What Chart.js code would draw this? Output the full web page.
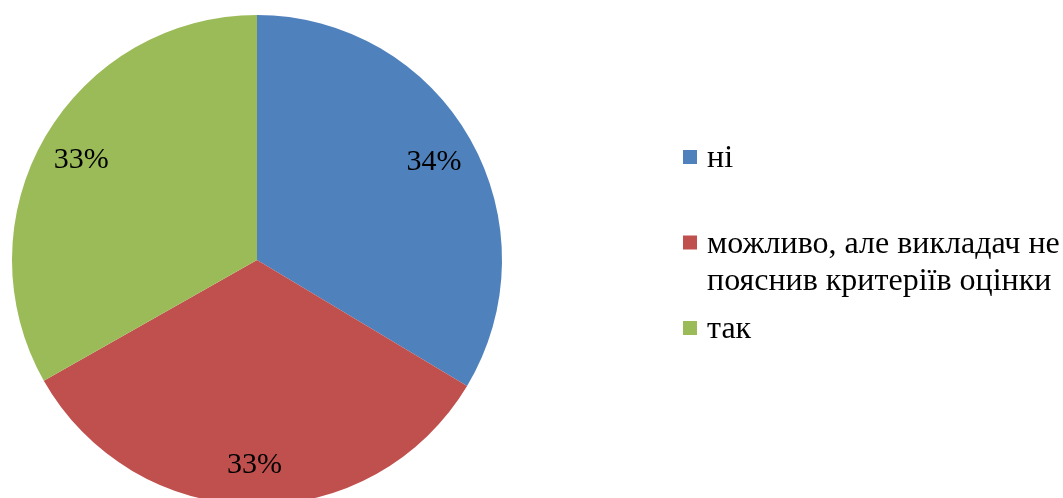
<!DOCTYPE html>
<html>
<head>
<meta charset="utf-8">
<script src="https://cdn.jsdelivr.net/npm/chart.js@4/dist/chart.umd.min.js"></script>
<style>
  html, body { margin: 0; padding: 0; background: #fff; overflow: hidden; }
  #wrap { position: absolute; left: 0; top: 0; width: 1063px; height: 520px; }
</style>
</head>
<body>
<div id="wrap"><canvas id="pieChart"></canvas></div>
<script>
const categories = ['ні', ['можливо, але викладач не', 'пояснив критеріїв оцінки'], 'так'];
const shares = [33.6, 33.2, 33.2];
const colors = ['#4F81BD', '#C0504D', '#9BBB59'];

const LABEL_FONT = '30px "Liberation Serif", "Times New Roman", serif';
const LEGEND_FONT = '32px "Liberation Serif", "Times New Roman", serif';

// percent labels inside the slices
const sliceLabels = {
  id: 'sliceLabels',
  afterDatasetsDraw(chart) {
    const ctx = chart.ctx;
    const arcs = chart.getDatasetMeta(0).data;
    const total = shares.reduce((s, v) => s + v, 0);
    ctx.save();
    ctx.font = LABEL_FONT;
    ctx.fillStyle = '#000';
    ctx.textAlign = 'center';
    ctx.textBaseline = 'alphabetic';
    arcs.forEach((arc, i) => {
      const mid = (arc.startAngle + arc.endAngle) / 2;
      const r = arc.outerRadius * 0.83;
      const x = arc.x + Math.cos(mid) * r;
      const y = arc.y + Math.sin(mid) * r;
      ctx.fillText(Math.round(shares[i] / total * 100) + '%', x, y + 10);
    });
    ctx.restore();
  }
};

// legend on the right, evenly spaced rows
const sideLegend = {
  id: 'sideLegend',
  afterDraw(chart) {
    const ctx = chart.ctx;
    const boxX = 683, textX = 707, top = 150, slot = 85.5, lineH = 37;
    ctx.save();
    ctx.font = LEGEND_FONT;
    ctx.textBaseline = 'alphabetic';
    ctx.textAlign = 'left';
    chart.data.labels.forEach((lab, i) => {
      const y = top + i * slot;
      ctx.fillStyle = colors[i];
      ctx.fillRect(boxX, y, 14, 14);
      ctx.fillStyle = '#000';
      const lines = Array.isArray(lab) ? lab : [lab];
      lines.forEach((t, j) => ctx.fillText(t, textX, y + 17 + j * lineH));
    });
    ctx.restore();
  }
};

new Chart(document.getElementById('pieChart'), {
  type: 'pie',
  data: {
    labels: categories,
    datasets: [{
      data: shares,
      backgroundColor: colors,
      borderWidth: 0
    }]
  },
  options: {
    responsive: true,
    maintainAspectRatio: false,
    animation: false,
    layout: { padding: { left: 12, right: 561, top: 15, bottom: 15 } },
    plugins: {
      legend: { display: false },
      tooltip: { enabled: false }
    }
  },
  plugins: [sliceLabels, sideLegend]
});
</script>
</body>
</html>
